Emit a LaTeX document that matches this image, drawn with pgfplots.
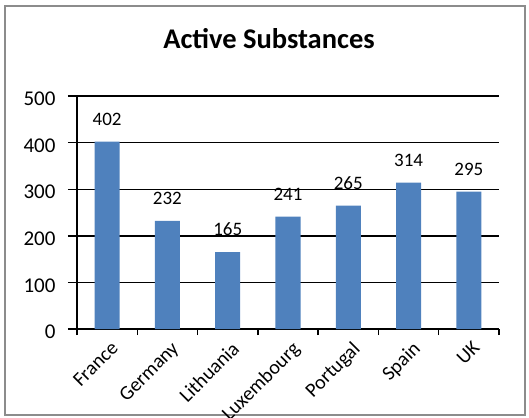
\documentclass[border=0pt]{standalone}
\usepackage{pgfplots}
\pgfplotsset{compat=1.18}
\usepackage{fontspec}
\setmainfont{Carlito}
\definecolor{barblue}{HTML}{4F81BD}
\definecolor{framegray}{HTML}{8C8C8C}
\begin{document}
\begin{tikzpicture}[x=1pt,y=1pt]
  % page area of the chart; labels running past the frame are cut off
  \useasboundingbox (0,0) rectangle (529,417);
  \clip (0,0) rectangle (529,417);
  % outer chart frame
  \draw[framegray, line width=1.6pt] (5,2) rectangle (525,411);
  \node[font=\bfseries\fontsize{28.5}{32}\selectfont] at (269,378) {Active Substances};
  \begin{axis}[
    at={(77pt,88pt)}, anchor=south west,
    width=422pt, height=233pt, scale only axis,
    ymin=0, ymax=500,
    xmin=-0.5, xmax=6.5,
    ytick={0,100,...,500},
    xtick={0,...,6},
    xticklabels={France,Germany,Lithuania,Luxembourg,Portugal,Spain,UK},
    minor xtick={-0.5,0.5,...,6.5},
    axis lines*=left,
    axis line style={line width=1.4pt, black},
    tick align=outside,
    major tick length=9pt,
    minor tick length=6pt,
    every tick/.style={black, line width=1.4pt},
    major x tick style={draw=none},
    ymajorgrids,
    major grid style={black, line width=1.4pt},
    yticklabel style={font=\fontsize{21}{24}\selectfont, xshift=-9pt, yshift=-3pt},
    xticklabel style={font=\fontsize{20}{24}\selectfont, rotate=45, anchor=north east, inner sep=1pt, xshift=1.5pt, yshift=-2.6pt},
    /pgf/number format/assume math mode=true,
    bar width=25pt,
    nodes near coords,
    every node near coord/.append style={font=\fontsize{19}{22}\selectfont, black, inner sep=2pt, yshift=14pt},
    clip=false,
  ]
    \addplot[ybar, fill=barblue, draw=none] coordinates {
      (0,402) (1,232) (2,165) (3,241) (4,265) (5,314) (6,295)
    };
  \end{axis}
\end{tikzpicture}
\end{document}
